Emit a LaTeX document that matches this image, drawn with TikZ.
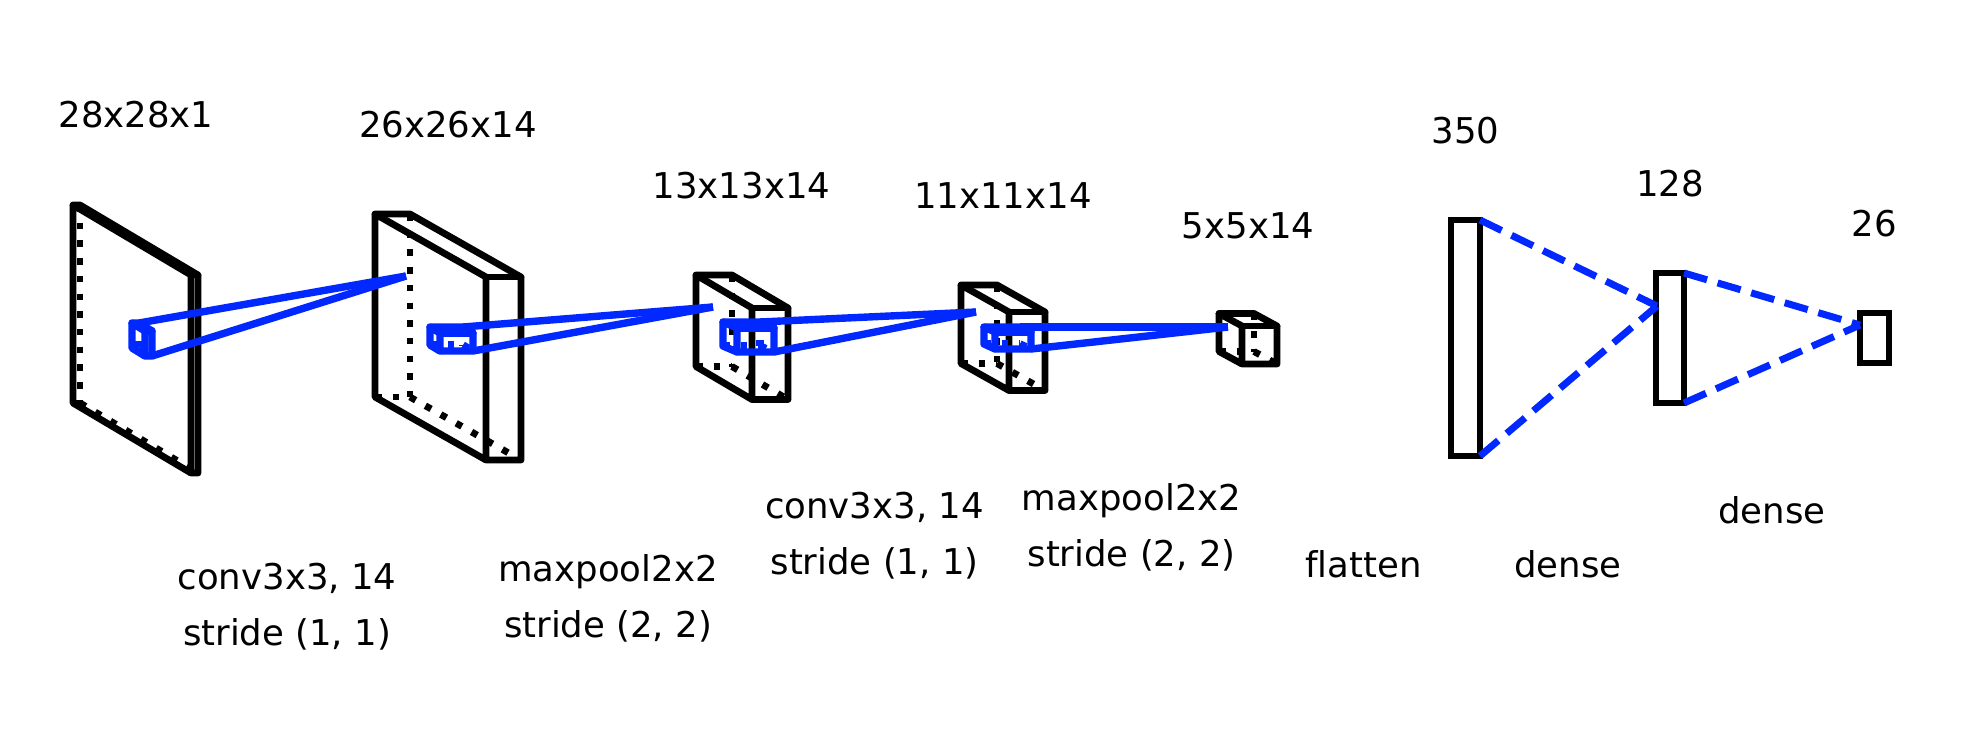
\documentclass[tikz,border=0pt]{standalone}
\usepackage{fontspec}
\setmainfont[Ligatures=NoCommon]{DejaVu Sans}
\definecolor{netblue}{RGB}{0,40,255}
\newcommand{\boxcuboid}[8]{%
% prefix, colour, x, y, front width, skew, height, depth
\coordinate (#1tl) at (#3,#4);
\coordinate (#1bl) at (#3,{#4+#7});
\coordinate (#1tr) at ({#3+#5},{#4+#6});
\coordinate (#1br) at ({#3+#5},{#4+#6+#7});
\coordinate (#1Btl) at ({#3+#8},#4);
\coordinate (#1Bbl) at ({#3+#8},{#4+#7});
\coordinate (#1Btr) at ({#3+#5+#8},{#4+#6});
\coordinate (#1Bbr) at ({#3+#5+#8},{#4+#6+#7});
\draw[solidedge,#2] (#1tl) -- (#1tr) -- (#1br) -- (#1bl) -- cycle;
\draw[solidedge,#2] (#1tl) -- (#1Btl) -- (#1Btr) -- (#1Bbr) -- (#1br);
\draw[solidedge,#2] (#1tr) -- (#1Btr);
\draw[dotedge,#2] (#1Btl) -- (#1Bbl);
\draw[dotedge,#2] (#1bl) -- (#1Bbl);
\draw[dotedge,#2] (#1Bbl) -- (#1Bbr);
}
\tikzset{
  solidedge/.style={line width=6.8pt,line cap=round,line join=round},
  dotedge/.style={line width=6.8pt,dash pattern=on 6.5pt off 11.2pt},
  densebox/.style={draw=black,line width=6.8pt,outer sep=0pt,inner sep=0pt},
  bluecube/.style={netblue,line width=7.4pt},
  field/.style={line width=7.4pt,color=netblue,line cap=butt},
  fclink/.style={line width=7pt,color=netblue,dash pattern=on 24pt off 11pt},
  lab/.style={font=\fontsize{35.5pt}{56pt}\selectfont,align=center,inner sep=0pt,text=black},
  dimlab/.style={font=\fontsize{35.5pt}{42pt}\selectfont,anchor=base,inner sep=0pt,text=black},
}
\begin{document}
\begin{tikzpicture}[x=1pt,y=-1pt]
\useasboundingbox (0,0) rectangle (1986,740);
\fill[white] (0,0) rectangle (1986,740);
% layers
\boxcuboid{a}{black}{73}{205}{118}{70}{198}{7}
\boxcuboid{b}{black}{375}{214}{111}{63}{183}{35}
\boxcuboid{c}{black}{696}{275}{56}{33}{91.5}{36}
\boxcuboid{d}{black}{961}{285}{48}{27}{78.5}{36}
\boxcuboid{e}{black}{1219}{313.5}{23}{12.5}{38}{35}
% receptive fields
\boxcuboid{p}{bluecube}{132}{323}{13}{8}{25}{7}
\boxcuboid{q}{bluecube}{430}{327}{10}{6}{18}{33}
\boxcuboid{r}{bluecube}{723}{322}{14}{6}{24}{37}
\boxcuboid{s}{bluecube}{984}{327}{11}{5}{17}{36}
\coordinate (apex1) at (406,276);
\coordinate (apex2) at (713,307);
\coordinate (apex3) at (976,312);
\coordinate (apex4) at (1228,327);
\draw[field] (pBtl) -- (apex1);
\draw[field] (pBbr) -- (apex1);
\draw[field] (qBtl) -- (apex2);
\draw[field] (qBbr) -- (apex2);
\draw[field] (rBtl) -- (apex3);
\draw[field] (rBbr) -- (apex3);
\draw[field] (sBtl) -- (apex4);
\draw[field] (sBbr) -- (apex4);
% dense boxes
\node[densebox,minimum width=29pt,minimum height=236pt] (fl) at (1465.5,338) {};
\node[densebox,minimum width=28pt,minimum height=130pt] (d1) at (1670,338) {};
\node[densebox,minimum width=29pt,minimum height=50pt] (d2) at (1874.5,338) {};
\coordinate (apex5) at (1657,306);
\coordinate (apex6) at (1860,325);
\draw[fclink] (fl.north east) -- (apex5);
\draw[fclink] (fl.south east) -- (apex5);
\draw[fclink] (d1.north east) -- (apex6);
\draw[fclink] (d1.south east) -- (apex6);
% dimension labels
\node[dimlab] (t1) at (136,127.5) {28x28x1};
\node[dimlab] (t2) at (448,137) {26x26x14};
\node[dimlab] (t3) at (741.5,198) {13x13x14};
\node[dimlab] (t4) at (1003,208.5) {11x11x14};
\node[dimlab] (t5) at (1248,238) {5x5x14};
\node[dimlab] (t6) at (1465.5,143) {350};
\node[dimlab] (t7) at (1670,196) {128};
\node[dimlab] (t8) at (1874,236) {26};
% operation labels
\node[lab] (o1) at (287,607) {conv3x3, 14\\stride (1, 1)};
\node[lab] (o2) at (608,598) {maxpool2x2\\stride (2, 2)};
\node[lab] (o3) at (874.5,536) {conv3x3, 14\\stride (1, 1)};
\node[lab] (o4) at (1131.5,527) {maxpool2x2\\stride (2, 2)};
\node[lab] (o5) at (1363.5,564) {flatten};
\node[lab] (o6) at (1568,564) {dense};
\node[lab] (o7) at (1772,510) {dense};
\end{tikzpicture}
\end{document}
